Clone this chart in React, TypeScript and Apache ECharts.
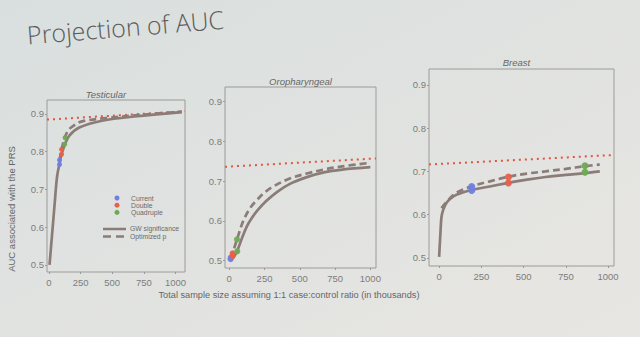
import React, { useEffect, useRef } from "react";
import * as echarts from "echarts";

// ---- Data ----
const X_TICKS = [0, 250, 500, 750, 1000];
const Y_TICKS = [0.5, 0.6, 0.7, 0.8, 0.9];
const PANEL_TITLES = ["Testicular", "Oropharyngeal", "Breast"];
const SCENARIOS = ["Current", "Double", "Quadruple"];
const LINE_LABELS = ["GW significance", "Optimized p"];

// Testicular
const testicularGW = [[5, 0.5], [25, 0.58], [45, 0.66], [65, 0.735], [85, 0.77], [100, 0.793], [125, 0.818], [160, 0.842], [240, 0.864], [420, 0.882], [700, 0.894], [1050, 0.905]];
const testicularOpt = [[84, 0.778], [100, 0.806], [125, 0.837], [150, 0.855], [175, 0.864], [240, 0.878], [300, 0.883], [450, 0.889], [700, 0.897], [1050, 0.906]];
const testicularLimit = [[-15, 0.885], [1075, 0.907]];
const testicularCurrent = [[84, 0.766], [84, 0.778]];
const testicularDouble = [[100, 0.793], [100, 0.806]];
const testicularQuadruple = [[125, 0.82], [128, 0.837]];

// Oropharyngeal
const oroGW = [[5, 0.502], [30, 0.508], [55, 0.523], [90, 0.556], [125, 0.586], [160, 0.607], [200, 0.626], [260, 0.649], [340, 0.673], [430, 0.693], [550, 0.71], [670, 0.722], [800, 0.729], [1000, 0.735]];
const oroOpt = [[5, 0.505], [25, 0.52], [55, 0.553], [100, 0.6], [150, 0.633], [196, 0.652], [250, 0.671], [314, 0.687], [433, 0.707], [550, 0.719], [669, 0.729], [800, 0.737], [1000, 0.746]];
const oroLimit = [[-30, 0.736], [1040, 0.757]];
const oroCurrent = [[10, 0.503], [10, 0.507]];
const oroDouble = [[24, 0.511], [24, 0.518]];
const oroQuadruple = [[57, 0.523], [55, 0.553]];

// Breast
const breastGW = [[0, 0.502], [8, 0.56], [14, 0.595], [25, 0.612], [43, 0.627], [70, 0.638], [102, 0.646], [190, 0.657], [300, 0.665], [414, 0.674], [520, 0.681], [629, 0.687], [750, 0.692], [863, 0.696], [951, 0.7]];
const breastOpt = [[14, 0.615], [30, 0.623], [50, 0.632], [100, 0.65], [190, 0.665], [300, 0.677], [414, 0.688], [520, 0.695], [629, 0.7], [750, 0.706], [863, 0.712], [951, 0.716]];
const breastLimit = [[-60, 0.716], [1035, 0.738]];
const breastCurrent = [[193, 0.656], [193, 0.665]];
const breastDouble = [[410, 0.673], [410, 0.687]];
const breastQuadruple = [[863, 0.698], [863, 0.713]];

const PANELS = [
  { gw: testicularGW, opt: testicularOpt, limit: testicularLimit, pts: [testicularCurrent, testicularDouble, testicularQuadruple] },
  { gw: oroGW, opt: oroOpt, limit: oroLimit, pts: [oroCurrent, oroDouble, oroQuadruple] },
  { gw: breastGW, opt: breastOpt, limit: breastLimit, pts: [breastCurrent, breastDouble, breastQuadruple] },
];

// ---- Layout / style ----
const GRIDS = [
  { left: 47, top: 100, width: 138, height: 172, xmin: -15, xmax: 1075, sym: 5 },
  { left: 225, top: 87, width: 151, height: 181, xmin: -30, xmax: 1040, sym: 6 },
  { left: 429, top: 69, width: 185, height: 197, xmin: -60, xmax: 1035, sym: 7 },
];
const Y_MIN = 0.481;
const Y_MAX = 0.937;
const LINE_COLOR = "#8b7c77";
const LIMIT_COLOR = "#e2553f";
const POINT_COLORS = ["#6f80e2", "#e8604a", "#6cab52"];
const LABEL_COLOR = "#7c7c7c";
const FONT = "'Liberation Sans', Arial, sans-serif";

export default function App() {
  const ref = useRef<HTMLDivElement>(null);

  useEffect(() => {
    if (!ref.current) return;
    const chart = echarts.init(ref.current, null, { renderer: "svg" });

    const grid = GRIDS.map((g) => ({
      left: g.left,
      top: g.top,
      width: g.width,
      height: g.height,
      show: true,
      borderColor: "#9c9a98",
      borderWidth: 1,
      backgroundColor: "transparent",
    }));

    const xAxis = GRIDS.map((g, i) => ({
      type: "value",
      gridIndex: i,
      min: g.xmin,
      max: g.xmax,
      axisLine: { show: false, onZero: false },
      splitLine: { show: false },
      axisTick: { show: true, inside: false, customValues: X_TICKS, length: 2, lineStyle: { color: "#9c9a98" } },
      axisLabel: {
        customValues: X_TICKS,
        color: LABEL_COLOR,
        fontSize: 9.5,
        fontFamily: FONT,
        margin: 5,
        formatter: (v: number) => String(v),
      },
    }));

    const yAxis = GRIDS.map((g, i) => ({
      type: "value",
      gridIndex: i,
      min: Y_MIN,
      max: Y_MAX,
      axisLine: { show: false, onZero: false },
      splitLine: { show: false },
      axisTick: { show: true, inside: false, customValues: Y_TICKS, length: 2, lineStyle: { color: "#9c9a98" } },
      axisLabel: {
        customValues: Y_TICKS,
        color: LABEL_COLOR,
        fontSize: 9.5,
        fontFamily: FONT,
        margin: 3,
        formatter: (v: number) => v.toFixed(1),
      },
    }));

    const series: any[] = [];
    PANELS.forEach((p, i) => {
      series.push({
        type: "line",
        xAxisIndex: i,
        yAxisIndex: i,
        data: p.limit,
        showSymbol: false,
        lineStyle: { color: LIMIT_COLOR, width: 2, type: [2, 4] },
        z: 2,
      });
      series.push({
        type: "line",
        xAxisIndex: i,
        yAxisIndex: i,
        data: p.opt,
        smooth: 0.35,
        showSymbol: false,
        lineStyle: { color: LINE_COLOR, width: 2.7, type: [7, 4] },
        z: 3,
      });
      series.push({
        type: "line",
        xAxisIndex: i,
        yAxisIndex: i,
        data: p.gw,
        smooth: 0.35,
        showSymbol: false,
        lineStyle: { color: LINE_COLOR, width: 2.7 },
        z: 3,
      });
      p.pts.forEach((pts, k) => {
        series.push({
          type: "scatter",
          name: SCENARIOS[k],
          xAxisIndex: i,
          yAxisIndex: i,
          data: pts,
          symbolSize: GRIDS[i].sym,
          itemStyle: { color: POINT_COLORS[k], opacity: 0.95 },
          z: 5,
        });
      });
    });

    const graphic: any[] = [];
    // Slide title
    graphic.push({
      type: "text",
      x: 28,
      y: 47,
      rotation: 0.08,
      style: {
        text: "Projection of AUC",
        fill: "#5b5b5b",
        font: "300 25px 'Open Sans', sans-serif",
        textVerticalAlign: "bottom",
      },
    });
    // Panel titles
    const titleYs = [94, 81, 62];
    PANEL_TITLES.forEach((t, i) => {
      const g = GRIDS[i];
      graphic.push({
        type: "text",
        x: g.left + g.width / 2 + (i === 0 ? -10 : i === 1 ? 0 : -5),
        y: titleYs[i],
        style: {
          text: t,
          fill: "#666",
          font: `italic 9.5px ${FONT}`,
          textAlign: "center",
          textVerticalAlign: "middle",
        },
      });
    });
    // Axis titles
    graphic.push({
      type: "text",
      x: 11,
      y: 209,
      rotation: Math.PI / 2,
      style: {
        text: "AUC associated with the PRS",
        fill: "#666",
        font: `9.5px ${FONT}`,
        textAlign: "center",
        textVerticalAlign: "middle",
      },
    });
    graphic.push({
      type: "text",
      x: 289,
      y: 295,
      style: {
        text: "Total sample size assuming 1:1 case:control ratio (in thousands)",
        fill: "#666",
        font: `9.2px ${FONT}`,
        textAlign: "center",
        textVerticalAlign: "middle",
      },
    });
    // Legend (panel 1)
    SCENARIOS.forEach((s, k) => {
      const y = 198 + k * 7.2;
      graphic.push({ type: "circle", shape: { cx: 117, cy: y, r: 2.5 }, style: { fill: POINT_COLORS[k] } });
      graphic.push({
        type: "text",
        x: 131,
        y,
        style: { text: s, fill: "#6a6a6a", font: `6.8px ${FONT}`, textVerticalAlign: "middle" },
      });
    });
    graphic.push({ type: "line", shape: { x1: 103, y1: 229, x2: 126, y2: 229 }, style: { stroke: LINE_COLOR, lineWidth: 2.5 } });
    graphic.push({ type: "line", shape: { x1: 103, y1: 236.5, x2: 126, y2: 236.5 }, style: { stroke: LINE_COLOR, lineWidth: 2.5, lineDash: [8, 5] } });
    LINE_LABELS.forEach((t, k) => {
      graphic.push({
        type: "text",
        x: 130,
        y: 228.5 + k * 7.5,
        style: { text: t, fill: "#6a6a6a", font: `6.8px ${FONT}`, textVerticalAlign: "middle" },
      });
    });

    chart.setOption({
      animation: false,
      backgroundColor: {
        type: "linear",
        x: 0,
        y: 0,
        x2: 1,
        y2: 1,
        colorStops: [
          { offset: 0, color: "#d9dfdf" },
          { offset: 1, color: "#e8e6e2" },
        ],
      },
      textStyle: { fontFamily: FONT },
      grid,
      xAxis,
      yAxis,
      series,
      graphic,
    });

    return () => chart.dispose();
  }, []);

  return (
    <div
      ref={ref}
      style={{ position: "fixed", left: 0, top: 0, width: 640, height: 337 }}
    />
  );
}
